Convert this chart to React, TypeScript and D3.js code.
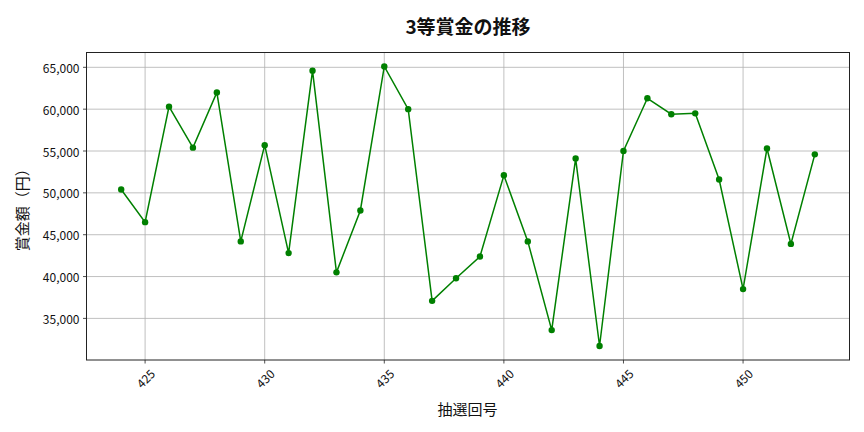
import React from 'react';
import * as d3 from 'd3';

// 抽選回号と3等賞金（円）
const draws = [
  424, 425, 426, 427, 428, 429, 430, 431, 432, 433, 434, 435, 436, 437, 438,
  439, 440, 441, 442, 443, 444, 445, 446, 447, 448, 449, 450, 451, 452, 453,
];
const prizes = [
  50400, 46500, 60300, 55400, 62000, 44200, 55700, 42800, 64600, 40500, 47900,
  65100, 60000, 37100, 39800, 42400, 52100, 44200, 33600, 54100, 31700, 55000,
  61300, 59400, 59500, 51600, 38500, 55300, 43900, 54600,
];
const xTicks = [425, 430, 435, 440, 445, 450];
const yTicks = [35000, 40000, 45000, 50000, 55000, 60000, 65000];

const W = 864;
const H = 432;
const plot = { left: 86.5, right: 849.5, top: 52.5, bottom: 360 };
const font = '"Noto Sans CJK JP", "Noto Sans", sans-serif';

export default function App() {
  const xMin = d3.min(draws)!;
  const xMax = d3.max(draws)!;
  const xPad = (xMax - xMin) * 0.05;
  const yMin = d3.min(prizes)!;
  const yMax = d3.max(prizes)!;
  const yPad = (yMax - yMin) * 0.05;

  const x = d3.scaleLinear().domain([xMin - xPad, xMax + xPad]).range([plot.left, plot.right]);
  const y = d3.scaleLinear().domain([yMin - yPad, yMax + yPad]).range([plot.bottom, plot.top]);

  const points = draws.map((d, i) => ({ draw: d, prize: prizes[i] }));
  const line = d3.line<{ draw: number; prize: number }>()
    .x(d => x(d.draw))
    .y(d => y(d.prize));

  const fmt = d3.format(',');

  return (
    <svg width={W} height={H} style={{ display: 'block', position: 'absolute', left: 0, top: 0 }}>
      <rect x={0} y={0} width={W} height={H} fill="#fff" />

      {/* グリッド */}
      {xTicks.map(t => (
        <line key={'gx' + t} x1={x(t)} x2={x(t)} y1={plot.top} y2={plot.bottom} stroke="#b0b0b0" strokeWidth={0.8} />
      ))}
      {yTicks.map(t => (
        <line key={'gy' + t} x1={plot.left} x2={plot.right} y1={y(t)} y2={y(t)} stroke="#b0b0b0" strokeWidth={0.8} />
      ))}

      {/* 折れ線 */}
      <path d={line(points) ?? ''} fill="none" stroke="#008000" strokeWidth={1.5} />
      {points.map(p => (
        <circle key={p.draw} cx={x(p.draw)} cy={y(p.prize)} r={3.2} fill="#008000" />
      ))}

      {/* 枠 */}
      <rect x={plot.left} y={plot.top} width={plot.right - plot.left} height={plot.bottom - plot.top}
        fill="none" stroke="#222" strokeWidth={1} />

      {/* x軸目盛 */}
      {xTicks.map(t => (
        <g key={'tx' + t}>
          <line x1={x(t)} x2={x(t)} y1={plot.bottom} y2={plot.bottom + 3.5} stroke="#222" strokeWidth={0.8} />
          <text transform={`translate(${x(t)},${plot.bottom + 18}) rotate(-45)`} textAnchor="middle"
            dominantBaseline="central" fontFamily={font} fontSize={12} fill="#111">{t}</text>
        </g>
      ))}

      {/* y軸目盛 */}
      {yTicks.map(t => (
        <g key={'ty' + t}>
          <line x1={plot.left - 3.5} x2={plot.left} y1={y(t)} y2={y(t)} stroke="#222" strokeWidth={0.8} />
          <text x={plot.left - 7} y={y(t)} textAnchor="end" dominantBaseline="central"
            fontFamily={font} fontSize={12} fill="#111">{fmt(t)}</text>
        </g>
      ))}

      {/* タイトル・軸ラベル */}
      <text x={468} y={25} textAnchor="middle" dominantBaseline="central" fontFamily={font}
        fontSize={19} fontWeight="bold" fill="#111">3等賞金の推移</text>
      <text x={467.5} y={408} textAnchor="middle" dominantBaseline="central" fontFamily={font}
        fontSize={15} fill="#111">抽選回号</text>
      <text transform={`translate(21,${(plot.top + plot.bottom) / 2}) rotate(-90)`} textAnchor="middle"
        dominantBaseline="central" fontFamily={font} fontSize={15} fill="#111">賞金額（円）</text>
    </svg>
  );
}
